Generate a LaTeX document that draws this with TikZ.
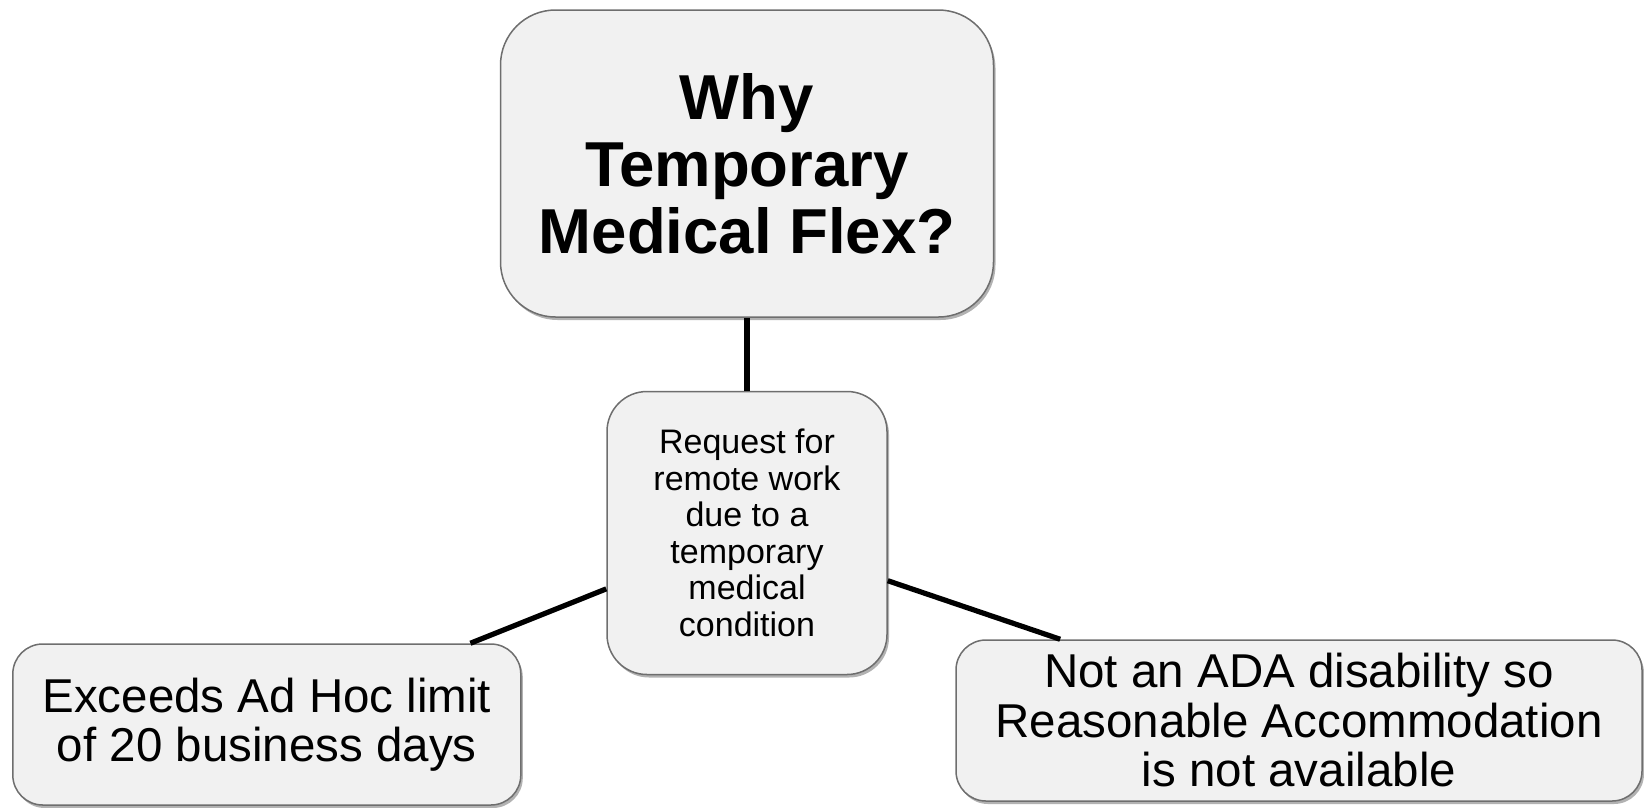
\documentclass[tikz,border=0pt]{standalone}
\usepackage{fontspec}
\setmainfont{Liberation Sans}
\usetikzlibrary{shadows}
\definecolor{boxfill}{HTML}{F1F1F1}
\definecolor{boxline}{HTML}{6E6E6E}
\begin{document}
\begin{tikzpicture}[x=1pt,y=-1pt,
  box/.style={draw=boxline, line width=1.5pt, fill=boxfill, inner sep=0pt, align=center,
    drop shadow={shadow xshift=2pt, shadow yshift=-3pt, fill=black, opacity=0.3}},
  link/.style={line width=5.2pt, draw=black}]
\useasboundingbox (0,0) rectangle (1644,807);
\node[box, rounded corners=55pt, minimum width=493pt, minimum height=307pt,
  font=\bfseries\fontsize{63.5}{67}\selectfont] (top) at (747,163.5) {Why\\Temporary\\Medical Flex?};
\node[box, rounded corners=40pt, minimum width=280pt, minimum height=283pt,
  font=\fontsize{34}{36.5}\selectfont] (mid) at (747,533) {Request for\\remote work\\due to a\\temporary\\medical\\condition};
\node[box, rounded corners=30pt, minimum width=508pt, minimum height=161pt,
  font=\fontsize{47.5}{49.5}\selectfont] (left) at (266.8,724.5) {Exceeds Ad Hoc limit\\of 20 business days};
\node[box, rounded corners=30pt, minimum width=686pt, minimum height=161pt,
  font=\fontsize{47.5}{49.5}\selectfont] (right) at (1299,720.5) {Not an ADA disability so\\Reasonable Accommodation\\is not available};
\draw[link] (top) -- (mid);
\draw[link] (mid) -- (left);
\draw[link] (mid) -- (right);
\end{tikzpicture}
\end{document}
